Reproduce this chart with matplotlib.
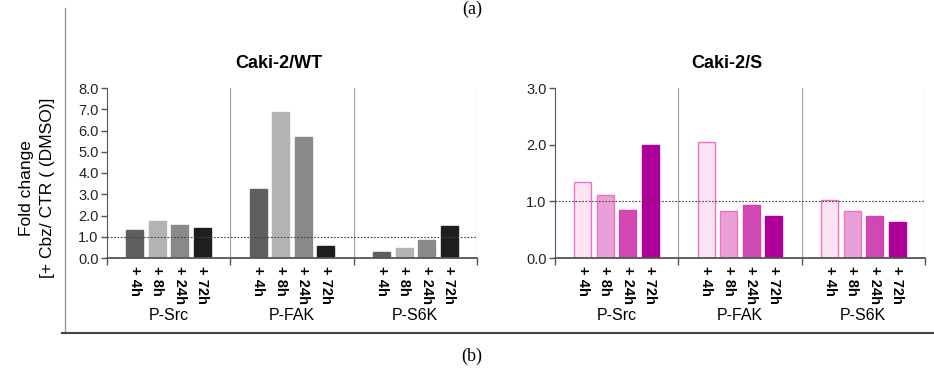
import numpy as np
import matplotlib
matplotlib.use("Agg")
import matplotlib.pyplot as plt
from matplotlib.lines import Line2D

plt.rcParams["font.family"] = ["Liberation Sans", "DejaVu Sans"]

# data
proteins = ["P-Src", "P-FAK", "P-S6K"]
times = ["+ 4h", "+ 8h", "+ 24h", "+ 72h"]
wt_src = [1.32, 1.74, 1.54, 1.43]
wt_fak = [3.23, 6.85, 5.69, 0.55]
wt_s6k = [0.30, 0.47, 0.86, 1.51]
s_src = [1.34, 1.11, 0.85, 2.00]
s_fak = [2.04, 0.83, 0.93, 0.74]
s_s6k = [1.03, 0.83, 0.75, 0.63]

wt_fill = ["#5f5f5f", "#b3b3b3", "#898989", "#1e1e1e"]
wt_edge = wt_fill
s_fill = ["#fde4f3", "#e8a0d6", "#d048b2", "#ae0099"]
s_edge = ["#f56cc4", "#ee72c8", "#d63fb0", "#ae0099"]

W, H = 934, 374
fig = plt.figure(figsize=(W / 100, H / 100), dpi=100)

spacing = 22.5 / 123.3
bar_w = 17 / 123.3


def panel(left_px, values, ymax, yticks, fills, edges, title, title_x):
    ax = fig.add_axes([left_px / W, 1 - 258 / H, 370 / W, 170 / H])
    centers = []
    for g, vals in enumerate(values):
        for i, v in enumerate(vals):
            x = g + 0.5 + (i - 1.5) * spacing
            centers.append(x)
            ax.bar(x, v, width=bar_w, color=fills[i], edgecolor=edges[i],
                   linewidth=1.0, zorder=2)
    ax.set_xlim(0, 3)
    ax.set_ylim(0, ymax)
    ax.set_yticks(yticks)
    ax.set_yticklabels([f"{t:.1f}" for t in yticks], fontsize=10.5, color="#222222")
    ax.set_xticks(centers)
    ax.set_xticklabels(times * 3, rotation=270, fontsize=10.5, fontweight="bold")
    ax.tick_params(axis="x", length=0, pad=6)
    ax.set_xticks([0, 1, 2, 3], minor=True)
    ax.tick_params(axis="x", which="minor", length=5, direction="out",
                   color="#555555", width=1)
    ax.tick_params(axis="y", length=4, color="#555555", width=1, pad=2)
    for s in ["top", "right"]:
        ax.spines[s].set_visible(False)
    ax.spines["left"].set_color("#555555")
    ax.spines["bottom"].set_color("#555555")
    ax.spines["bottom"].set_linewidth(1.3)
    for x in [1, 2, 3]:
        ax.axvline(x, color="#a0a0a0", lw=0.8, zorder=1)
    ax.axhline(1.0, color="#444444", lw=0.8, ls=(0, (1.5, 1.5)), zorder=3)
    for g, name in enumerate(proteins):
        ax.text(g + 0.5, -0.34, name, transform=ax.get_xaxis_transform(),
                ha="center", va="center", fontsize=11.5)
    fig.text(title_x / W, 1 - 64 / H, title, ha="center", va="center",
             fontsize=13, fontweight="bold")
    return ax


panel(107, [wt_src, wt_fak, wt_s6k], 8.0, np.arange(0, 8.5, 1.0),
      wt_fill, wt_edge, "Caki-2/WT", 279)
panel(555, [s_src, s_fak, s_s6k], 3.0, np.arange(0, 3.5, 1.0),
      s_fill, s_edge, "Caki-2/S", 727)

fig.text(37 / W, 1 - 188 / H, "Fold change\n[+ Cbz/ CTR ( (DMSO)]",
         rotation=90, ha="center", va="center", fontsize=12.5,
         multialignment="center", linespacing=1.5)

# outer frame lines
fig.add_artist(Line2D([65 / W, 65 / W], [1 - 8 / H, 1 - 333 / H],
                      transform=fig.transFigure, color="#999999", lw=1.0))
fig.add_artist(Line2D([62 / W, 1.0], [1 - 333 / H, 1 - 333 / H],
                      transform=fig.transFigure, color="#444444", lw=1.5))

fig.text(472 / W, 1 - 9 / H, "(a)", ha="center", va="center", fontsize=13,
         family="Liberation Serif")
fig.text(472 / W, 1 - 356 / H, "(b)", ha="center", va="center", fontsize=13,
         family="Liberation Serif")

fig.savefig("out.png", dpi=100)
